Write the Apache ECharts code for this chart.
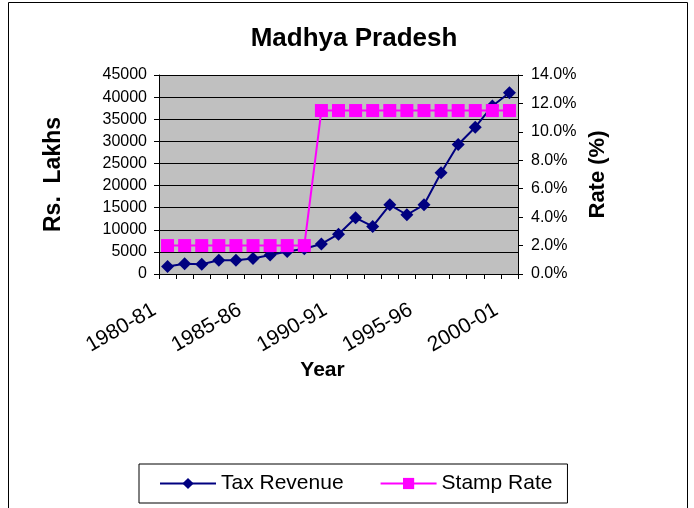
<!DOCTYPE html>
<html>
<head>
<meta charset="utf-8">
<script src="https://cdn.jsdelivr.net/npm/echarts@6/dist/echarts.min.js"></script>
<style>
html,body{margin:0;padding:0;background:#fff;}
#chart{width:694px;height:508px;}
</style>
</head>
<body>
<div id="chart"></div>
<script>
var years = ['1980-81','1981-82','1982-83','1983-84','1984-85','1985-86','1986-87','1987-88','1988-89','1989-90','1990-91','1991-92','1992-93','1993-94','1994-95','1995-96','1996-97','1997-98','1998-99','1999-00','2000-01'];
var taxRevenue = [1700, 2300, 2200, 3100, 3100, 3500, 4300, 5100, 5700, 6800, 9000, 12700, 10750, 15650, 13400, 15650, 22900, 29300, 33200, 38000, 41000];
var stampRate = [2.0, 2.0, 2.0, 2.0, 2.0, 2.0, 2.0, 2.0, 2.0, 11.5, 11.5, 11.5, 11.5, 11.5, 11.5, 11.5, 11.5, 11.5, 11.5, 11.5, 11.5];
var leftTicks = {min: 0, max: 45000, interval: 5000};
var rightTicks = {min: 0, max: 14, interval: 2};

var FONT = 'Liberation Sans, Arial, sans-serif';
var chart = echarts.init(document.getElementById('chart'), null, {renderer: 'canvas'});
chart.setOption({
  backgroundColor: '#ffffff',
  animation: false,
  textStyle: {fontFamily: FONT, color: '#000'},
  graphic: [{
    type: 'rect',
    shape: {x: 8.5, y: 2.5, width: 679, height: 600},
    style: {fill: 'none', stroke: '#000', lineWidth: 1},
    silent: true
  }],
  title: {
    text: 'Madhya Pradesh',
    left: 349,
    textAlign: 'center',
    top: 21,
    textStyle: {fontFamily: FONT, fontWeight: 'bold', fontSize: 26, color: '#000'}
  },
  legend: {
    data: ['Tax Revenue', 'Stamp Rate'],
    left: 139,
    top: 464,
    orient: 'horizontal',
    padding: [9, 15, 9, 20],
    itemGap: 36,
    itemWidth: 56,
    itemHeight: 14,
    borderColor: '#000',
    borderWidth: 1,
    backgroundColor: '#fff',
    textStyle: {fontFamily: FONT, fontSize: 21, color: '#000'}
  },
  grid: {
    left: 159, right: 176, top: 75, bottom: 234,
    show: true, backgroundColor: '#C0C0C0', borderWidth: 0,
    containLabel: false
  },
  xAxis: {
    type: 'category',
    data: years,
    boundaryGap: true,
    name: 'Year',
    nameLocation: 'middle',
    nameGap: 86,
    nameTextStyle: {fontFamily: FONT, fontWeight: 'bold', fontSize: 21, color: '#000', padding: [0, 32, 0, 0]},
    axisLine: {show: true, lineStyle: {color: '#000', width: 1}},
    axisTick: {show: true, interval: 0, alignWithLabel: false, length: 5, lineStyle: {color: '#000'}},
    axisLabel: {interval: 4, rotate: 30, fontSize: 21, margin: 27, padding: [0, 15, 0, 0], color: '#000', fontFamily: FONT},
    splitLine: {show: false}
  },
  yAxis: [{
    type: 'value',
    position: 'left',
    min: leftTicks.min, max: leftTicks.max, interval: leftTicks.interval,
    name: 'Rs.  Lakhs',
    nameLocation: 'middle',
    nameRotate: 90,
    nameGap: 94,
    nameTextStyle: {fontFamily: FONT, fontWeight: 'bold', fontSize: 23, color: '#000'},
    axisLine: {show: true, lineStyle: {color: '#000', width: 1}},
    axisTick: {show: true, length: 5, lineStyle: {color: '#000'}},
    axisLabel: {fontSize: 16, margin: 12, color: '#000', fontFamily: FONT, formatter: function (v) { return String(v); }},
    splitLine: {show: true, lineStyle: {color: '#000', width: 1}}
  }, {
    type: 'value',
    position: 'right',
    min: rightTicks.min, max: rightTicks.max, interval: rightTicks.interval,
    name: 'Rate (%)',
    nameLocation: 'middle',
    nameRotate: 90,
    nameGap: 67,
    nameTextStyle: {fontFamily: FONT, fontWeight: 'bold', fontSize: 22, color: '#000'},
    axisLine: {show: true, lineStyle: {color: '#000', width: 1}},
    axisTick: {show: true, length: 5, lineStyle: {color: '#000'}},
    axisLabel: {fontSize: 16, margin: 13, color: '#000', fontFamily: FONT, formatter: function (v) { return v.toFixed(1) + '%'; }},
    splitLine: {show: false}
  }],
  series: [{
    name: 'Tax Revenue',
    type: 'line',
    yAxisIndex: 0,
    data: taxRevenue,
    symbol: 'diamond',
    symbolSize: 13,
    showAllSymbol: true,
    z: 2,
    lineStyle: {color: '#000080', width: 2},
    itemStyle: {color: '#000080'}
  }, {
    name: 'Stamp Rate',
    type: 'line',
    yAxisIndex: 1,
    data: stampRate,
    symbol: 'rect',
    symbolSize: 13,
    showAllSymbol: true,
    z: 3,
    lineStyle: {color: '#FF00FF', width: 2},
    itemStyle: {color: '#FF00FF'}
  }]
});
</script>
</body>
</html>
